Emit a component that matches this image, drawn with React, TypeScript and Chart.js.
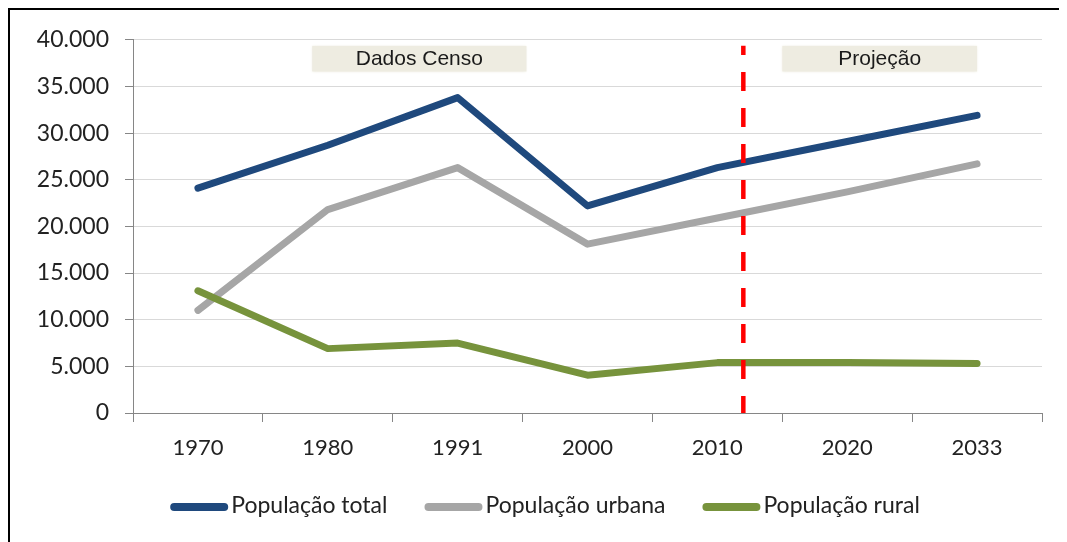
import React, { useEffect, useRef } from 'react';
import { Chart, registerables } from 'chart.js';

Chart.register(...registerables);

// ---- data ----
const categories = ['1970', '1980', '1991', '2000', '2010', '2020', '2033'];
const popTotal = [24100, 28700, 33800, 22200, 26300, 29100, 31900];
const popUrbana = [11000, 21800, 26300, 18100, 20900, 23700, 26700];
const popRural = [13100, 6900, 7500, 4050, 5400, 5400, 5300];
const seriesNames = ['População total', 'População urbana', 'População rural'];
const seriesColors = ['#1F497D', '#A6A6A6', '#77933C'];
const yMin = 0;
const yMax = 40000;
const yStep = 5000;
// divider between census data and projection (category position)
const dividerPosition = 4.2;
const dividerTopValue = 39350;
// labelled bands at the top (category positions / values)
const bandLabels = ['Dados Censo', 'Projeção'];
const bandFrom = [0.88, 4.5];
const bandTo = [2.53, 6.0];
const bandTopValue = 39350;
const bandBottomValue = 36600;

const fmt = (v: number) => String(v).replace(/\B(?=(\d{3})+(?!\d))/g, '.');

const overlayPlugin = {
  id: 'overlay',
  beforeDatasetsDraw(chart: any) {
    const { ctx, scales } = chart;
    const x = scales.x;
    const y = scales.y;
    ctx.save();
    bandLabels.forEach((label, i) => {
      const x0 = x.getPixelForValue(bandFrom[i]);
      const x1 = x.getPixelForValue(bandTo[i]);
      const y0 = y.getPixelForValue(bandTopValue);
      const y1 = y.getPixelForValue(bandBottomValue);
      ctx.fillStyle = '#EEECE1';
      ctx.shadowColor = '#EEECE1';
      ctx.shadowBlur = 3;
      ctx.fillRect(x0, y0, x1 - x0, y1 - y0);
      ctx.shadowBlur = 0;
      ctx.fillStyle = '#1a1a1a';
      ctx.font = '21px "Liberation Sans", Arial, sans-serif';
      ctx.textAlign = 'center';
      ctx.textBaseline = 'middle';
      ctx.fillText(label, (x0 + x1) / 2, (y0 + y1) / 2 + 1);
    });
    ctx.restore();
  },
  afterDatasetsDraw(chart: any) {
    const { ctx, scales } = chart;
    const xp = scales.x.getPixelForValue(dividerPosition);
    const yb = scales.y.getPixelForValue(yMin);
    const yt = scales.y.getPixelForValue(dividerTopValue);
    ctx.save();
    ctx.strokeStyle = '#FF0000';
    ctx.lineWidth = 4.5;
    ctx.lineCap = 'butt';
    ctx.setLineDash([19, 17]);
    ctx.lineDashOffset = 2;
    ctx.beginPath();
    ctx.moveTo(xp, yb);
    ctx.lineTo(xp, yt);
    ctx.stroke();
    ctx.restore();
  },
  afterDraw(chart: any) {
    const { ctx } = chart;
    const lineLen = 50;
    const lineW = 8;
    const gap = 3;
    const spacing = 37;
    const centerX = 535;
    const cy = 497;
    ctx.save();
    ctx.font = '23px Lato, sans-serif';
    const widths = chart.data.datasets.map((d: any) => ctx.measureText(d.label).width);
    const itemW = widths.map((w: number) => lineLen + lineW + gap + w);
    const total = itemW.reduce((a: number, b: number) => a + b, 0) + spacing * (itemW.length - 1);
    let xCur = centerX - total / 2;
    chart.data.datasets.forEach((d: any, i: number) => {
      ctx.strokeStyle = d.borderColor;
      ctx.lineWidth = lineW;
      ctx.lineCap = 'round';
      ctx.beginPath();
      ctx.moveTo(xCur + lineW / 2, cy);
      ctx.lineTo(xCur + lineW / 2 + lineLen, cy);
      ctx.stroke();
      ctx.fillStyle = '#222';
      ctx.textAlign = 'left';
      ctx.textBaseline = 'middle';
      ctx.fillText(d.label, xCur + lineLen + lineW + gap, cy - 1);
      xCur += itemW[i] + spacing;
    });
    ctx.restore();
  },
};

export default function App() {
  const ref = useRef<HTMLCanvasElement>(null);
  useEffect(() => {
    if (!ref.current) return;
    const values = [popTotal, popUrbana, popRural];
    const chart = new Chart(ref.current, {
      type: 'line',
      data: {
        labels: categories,
        datasets: values.map((vals, i) => ({
          label: seriesNames[i],
          data: vals,
          borderColor: seriesColors[i],
          backgroundColor: seriesColors[i],
          borderWidth: 7,
          borderCapStyle: 'round',
          borderJoinStyle: 'round',
          pointRadius: 0,
          pointHoverRadius: 0,
          tension: 0,
          fill: false,
          order: 2 - i,
        })),
      },
      options: {
        responsive: false,
        animation: false,
        devicePixelRatio: 1,
        layout: { padding: { top: 28, right: 25, left: 0, bottom: 0 } },
        plugins: {
          legend: { display: false },
          tooltip: { enabled: false },
        },
        scales: {
          x: {
            offset: true,
            grid: {
              offset: true,
              drawOnChartArea: false,
              drawTicks: true,
              tickLength: 9,
              color: '#868686',
              lineWidth: 1,
            },
            border: { color: '#868686', width: 1 },
            ticks: {
              font: { family: 'Lato', size: 22 },
              color: '#222',
              padding: 13,
              maxRotation: 0,
              autoSkip: false,
            },
            afterFit(s: any) {
              s.height = 129;
            },
          },
          y: {
            min: yMin,
            max: yMax,
            ticks: {
              stepSize: yStep,
              callback: (v: any) => fmt(Number(v)),
              font: { family: 'Lato', size: 23 },
              color: '#222',
              padding: 16,
            },
            grid: {
              color: '#D9D9D9',
              tickColor: '#868686',
              tickLength: 8,
              lineWidth: 1,
            },
            border: { color: '#868686', width: 1 },
            afterFit(s: any) {
              s.width = 123;
            },
          },
        },
      } as any,
      plugins: [overlayPlugin],
    });
    return () => chart.destroy();
  }, []);

  return (
    <div
      style={{
        position: 'relative',
        width: 1059,
        height: 534,
        boxSizing: 'border-box',
        borderTop: '2px solid #000',
        borderLeft: '2px solid #000',
        background: '#fff',
      }}
    >
      <canvas ref={ref} width={1057} height={532} style={{ display: 'block' }} />
    </div>
  );
}
